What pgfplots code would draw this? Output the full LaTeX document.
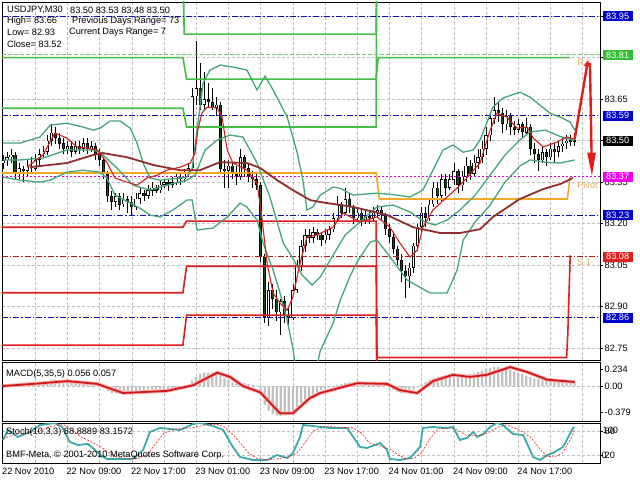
\documentclass[border=0pt]{standalone}
\usepackage{pgfplots}
\pgfplotsset{compat=1.18}
\usepackage{pgfplotstable}
\usepackage{fontspec}
\setmainfont{Liberation Sans}
\usetikzlibrary{arrows.meta}
\newcommand\mtf{\fontsize{9.2}{10}\selectfont}
\definecolor{gridc}{RGB}{192,192,192}
\definecolor{histc}{RGB}{192,192,192}
\definecolor{rgreen}{RGB}{70,190,70}
\definecolor{lgreen}{RGB}{110,200,110}
\definecolor{pivorange}{RGB}{240,170,40}
\definecolor{sred}{RGB}{225,30,30}
\definecolor{navy}{RGB}{15,15,175}
\definecolor{magl}{RGB}{230,0,230}
\definecolor{dred}{RGB}{170,30,30}
\definecolor{bband}{RGB}{70,165,120}
\definecolor{maroon}{RGB}{145,45,45}
\definecolor{mared}{RGB}{205,35,35}
\definecolor{beargreen}{RGB}{25,70,25}
\definecolor{labtan}{RGB}{230,175,95}
\definecolor{stochc}{RGB}{60,170,170}
\definecolor{boxblue}{RGB}{0,0,205}
\definecolor{boxgreen}{RGB}{50,190,50}
\definecolor{boxmag}{RGB}{240,0,240}
\definecolor{boxred}{RGB}{225,30,30}
\definecolor{macdred}{RGB}{210,25,25}
\definecolor{macdglow}{RGB}{250,170,170}

\pgfplotstableread{
i o h l c
0 83.42 83.45 83.40 83.43
1 83.43 83.46 83.41 83.44
2 83.44 83.47 83.42 83.45
3 83.45 83.46 83.36 83.38
4 83.38 83.42 83.36 83.40
5 83.40 83.41 83.35 83.39
6 83.39 83.43 83.37 83.41
7 83.41 83.44 83.38 83.40
8 83.40 83.45 83.39 83.43
9 83.43 83.47 83.41 83.45
10 83.45 83.48 83.44 83.46
11 83.46 83.52 83.45 83.50
12 83.50 83.56 83.48 83.53
13 83.53 83.55 83.49 83.51
14 83.51 83.53 83.47 83.49
15 83.49 83.51 83.45 83.47
16 83.47 83.50 83.45 83.48
17 83.48 83.50 83.44 83.46
18 83.46 83.50 83.45 83.48
19 83.48 83.50 83.45 83.47
20 83.47 83.51 83.46 83.49
21 83.49 83.51 83.45 83.47
22 83.47 83.50 83.46 83.48
23 83.48 83.49 83.43 83.45
24 83.45 83.47 83.41 83.43
25 83.43 83.44 83.36 83.38
26 83.38 83.39 83.28 83.30
27 83.30 83.32 83.25 83.28
28 83.28 83.31 83.26 83.30
29 83.30 83.31 83.25 83.27
30 83.27 83.31 83.26 83.29
31 83.29 83.30 83.24 83.28
32 83.28 83.30 83.23 83.26
33 83.26 83.31 83.25 83.29
34 83.29 83.33 83.27 83.31
35 83.31 83.32 83.28 83.30
36 83.30 83.34 83.29 83.32
37 83.32 83.35 83.30 83.33
38 83.33 83.34 83.31 83.32
39 83.32 83.36 83.31 83.34
40 83.34 83.36 83.33 83.35
41 83.35 83.36 83.32 83.34
42 83.34 83.37 83.33 83.35
43 83.35 83.38 83.34 83.37
44 83.37 83.38 83.34 83.36
45 83.36 83.40 83.35 83.38
46 83.38 83.42 83.37 83.40
47 83.40 83.69 83.39 83.66
48 83.66 83.86 83.63 83.69
49 83.69 83.78 83.61 83.63
50 83.63 83.75 83.61 83.65
51 83.65 83.71 83.62 83.64
52 83.64 83.69 83.61 83.62
53 83.62 83.66 83.59 83.63
54 83.63 83.64 83.38 83.40
55 83.40 83.43 83.33 83.39
56 83.39 83.43 83.33 83.41
57 83.41 83.42 83.36 83.38
58 83.38 83.41 83.34 83.37
59 83.37 83.47 83.36 83.44
60 83.44 83.45 83.37 83.40
61 83.40 83.42 83.35 83.37
62 83.37 83.39 83.33 83.36
63 83.36 83.38 83.32 83.34
64 83.34 83.35 83.06 83.08
65 83.08 83.09 82.84 82.86
66 82.86 82.99 82.83 82.96
67 82.96 82.98 82.89 82.93
68 82.93 82.96 82.85 82.88
69 82.88 82.93 82.80 82.92
70 82.92 82.94 82.84 82.87
71 82.87 82.90 82.82 82.86
72 82.86 82.98 82.85 82.96
73 82.96 83.07 82.95 83.05
74 83.05 83.14 83.03 83.12
75 83.12 83.18 83.10 83.16
76 83.16 83.18 83.13 83.15
77 83.15 83.19 83.13 83.17
78 83.17 83.18 83.14 83.16
79 83.16 83.17 83.12 83.14
80 83.14 83.18 83.13 83.16
81 83.16 83.19 83.14 83.18
82 83.18 83.24 83.17 83.22
83 83.22 83.30 83.21 83.27
84 83.27 83.28 83.22 83.24
85 83.24 83.33 83.23 83.29
86 83.29 83.31 83.24 83.26
87 83.26 83.27 83.20 83.22
88 83.22 83.26 83.21 83.24
89 83.24 83.25 83.19 83.21
90 83.21 83.25 83.20 83.23
91 83.23 83.25 83.20 83.22
92 83.22 83.26 83.21 83.24
93 83.24 83.27 83.22 83.25
94 83.25 83.26 83.21 83.23
95 83.23 83.24 83.16 83.18
96 83.18 83.20 83.13 83.15
97 83.15 83.17 83.09 83.11
98 83.11 83.12 83.05 83.07
99 83.07 83.09 82.99 83.03
100 83.03 83.05 82.93 83.01
101 83.01 83.06 82.97 83.04
102 83.04 83.13 83.02 83.12
103 83.12 83.20 83.10 83.19
104 83.19 83.26 83.17 83.24
105 83.24 83.26 83.19 83.22
106 83.22 83.29 83.21 83.27
107 83.27 83.35 83.26 83.33
108 83.33 83.35 83.27 83.30
109 83.30 83.38 83.28 83.36
110 83.36 83.38 83.30 83.33
111 83.33 83.38 83.32 83.36
112 83.36 83.42 83.34 83.39
113 83.39 83.40 83.31 83.34
114 83.34 83.39 83.32 83.37
115 83.37 83.44 83.35 83.41
116 83.41 83.43 83.36 83.38
117 83.38 83.45 83.37 83.42
118 83.42 83.47 83.40 83.44
119 83.44 83.50 83.42 83.47
120 83.47 83.55 83.45 83.52
121 83.52 83.60 83.50 83.58
122 83.58 83.66 83.56 83.61
123 83.61 83.64 83.57 83.60
124 83.60 83.62 83.53 83.56
125 83.56 83.61 83.54 83.59
126 83.59 83.60 83.52 83.55
127 83.55 83.57 83.52 83.54
128 83.54 83.58 83.53 83.56
129 83.56 83.57 83.51 83.53
130 83.53 83.58 83.52 83.55
131 83.55 83.56 83.45 83.47
132 83.47 83.49 83.42 83.45
133 83.45 83.47 83.39 83.43
134 83.43 83.48 83.42 83.46
135 83.46 83.47 83.41 83.44
136 83.44 83.49 83.43 83.47
137 83.47 83.49 83.42 83.46
138 83.46 83.50 83.44 83.48
139 83.48 83.51 83.46 83.49
140 83.49 83.52 83.47 83.50
141 83.50 83.52 83.48 83.50
142 83.50 83.53 83.48 83.50
}\candles

\pgfplotstableread{
i v
0 0.01
1 0.01
2 0.00
3 -0.01
4 0.00
5 0.00
6 0.01
7 0.02
8 0.03
9 0.04
10 0.05
11 0.07
12 0.09
13 0.09
14 0.08
15 0.08
16 0.07
17 0.07
18 0.06
19 0.06
20 0.05
21 0.05
22 0.04
23 0.03
24 0.02
25 -0.03
26 -0.07
27 -0.10
28 -0.10
29 -0.09
30 -0.09
31 -0.08
32 -0.08
33 -0.07
34 -0.06
35 -0.06
36 -0.05
37 -0.05
38 -0.05
39 -0.04
40 -0.04
41 -0.04
42 -0.03
43 -0.03
44 -0.02
45 -0.02
46 -0.01
47 0.08
48 0.13
49 0.17
50 0.19
51 0.19
52 0.19
53 0.18
54 0.15
55 0.11
56 0.08
57 0.05
58 0.04
59 0.05
60 0.04
61 0.03
62 0.02
63 0.01
64 -0.12
65 -0.27
66 -0.35
67 -0.40
68 -0.42
69 -0.43
70 -0.42
71 -0.40
72 -0.35
73 -0.30
74 -0.24
75 -0.19
76 -0.15
77 -0.12
78 -0.09
79 -0.06
80 -0.04
81 -0.02
82 0.00
83 0.02
84 0.03
85 0.04
86 0.05
87 0.05
88 0.05
89 0.05
90 0.05
91 0.05
92 0.05
93 0.05
94 0.04
95 0.02
96 -0.02
97 -0.05
98 -0.08
99 -0.10
100 -0.10
101 -0.09
102 -0.06
103 -0.02
104 0.02
105 0.06
106 0.09
107 0.12
108 0.13
109 0.14
110 0.15
111 0.15
112 0.15
113 0.15
114 0.16
115 0.16
116 0.17
117 0.18
118 0.20
119 0.22
120 0.24
121 0.26
122 0.27
123 0.27
124 0.26
125 0.25
126 0.23
127 0.21
128 0.19
129 0.17
130 0.15
131 0.13
132 0.11
133 0.10
134 0.09
135 0.08
136 0.08
137 0.07
138 0.07
139 0.07
140 0.06
141 0.06
142 0.056
}\macdhist

\pgfplotsset{mt/.style={scale only axis, width=598pt, xmin=-0.25, xmax=148.3,
  axis line style={black, line width=0.8pt},
  grid=major, grid style={gridc, dash pattern=on 3pt off 2pt, line width=0.5pt},
  xtick={8,16,...,144}, xticklabels={}, xtick style={draw=none},
  ytick pos=right, yticklabel pos=right, tick align=outside, major tick length=3pt,
  ytick style={black, line width=0.6pt},
  yticklabel style={font=\mtf, anchor=west, inner sep=0pt, xshift=1.5pt},
  xticklabel style={font=\mtf, anchor=north west, inner sep=0pt, xshift=-1pt, yshift=-2pt},
  clip mode=individual}}

\begin{document}
\begin{tikzpicture}
\useasboundingbox (0,0) rectangle (640pt,480pt);
\fill[white] (0,0) rectangle (640pt,480pt);

% ---------------- main price pane ----------------
\begin{axis}[mt, at={(2pt,120pt)}, anchor=south west, height=358pt,
  ymin=82.707, ymax=84.001,
  ytick={82.75,82.90,83.05,83.20,83.35,83.50,83.65,83.80,83.95},
  yticklabels={82.75,82.90,83.05,83.20,83.35,{},83.65,{},{}}]

% candle wicks
\addplot[mark=none, draw=none, error bars/.cd, y dir=both, y explicit, error mark=none,
  error bar style={draw=black, line width=0.7pt}]
  table[x=i, y expr={(\thisrow{h}+\thisrow{l})/2}, y error expr={(\thisrow{h}-\thisrow{l})/2}] {\candles};
% bear bodies
\addplot[mark=none, draw=none, restrict expr to domain={\thisrow{o}-\thisrow{c}}{0:10},
  error bars/.cd, y dir=both, y explicit, error mark=none,
  error bar style={draw=black, line width=3.2pt}]
  table[x=i, y expr={(\thisrow{o}+\thisrow{c})/2}, y error expr={max(abs(\thisrow{c}-\thisrow{o})/2,0.0015)}] {\candles};
\addplot[mark=none, draw=none, restrict expr to domain={\thisrow{o}-\thisrow{c}}{0.001:10},
  error bars/.cd, y dir=both, y explicit, error mark=none,
  error bar style={draw=beargreen, line width=1.6pt}]
  table[x=i, y expr={(\thisrow{o}+\thisrow{c})/2}, y error expr={max(abs(\thisrow{c}-\thisrow{o})/2-0.002,0)}] {\candles};
% bull bodies
\addplot[mark=none, draw=none, restrict expr to domain={\thisrow{c}-\thisrow{o}}{0.001:10},
  error bars/.cd, y dir=both, y explicit, error mark=none,
  error bar style={draw=black, line width=3.2pt}]
  table[x=i, y expr={(\thisrow{o}+\thisrow{c})/2}, y error expr={abs(\thisrow{c}-\thisrow{o})/2}] {\candles};
\addplot[mark=none, draw=none, restrict expr to domain={\thisrow{c}-\thisrow{o}}{0.001:10},
  error bars/.cd, y dir=both, y explicit, error mark=none,
  error bar style={draw=white, line width=1.6pt}]
  table[x=i, y expr={(\thisrow{o}+\thisrow{c})/2}, y error expr={max(abs(\thisrow{c}-\thisrow{o})/2-0.002,0)}] {\candles};

% daily pivot step lines
\addplot[rgreen, line width=1.6pt] coordinates {(-0.25,83.617)(44.7,83.617)(45.6,83.549)(92.7,83.549)(92.8,84.2)};
\addplot[rgreen, line width=1.6pt] coordinates {(-0.25,83.800)(44.7,83.800)(45.6,83.722)(92.7,83.722)(93.2,83.800)(140.9,83.800)};
\addplot[rgreen, line width=1.6pt] coordinates {(-0.25,84.2)(44.7,84.2)(45.0,83.885)(92.7,83.885)(92.8,84.2)};
\addplot[pivorange, line width=1.6pt] coordinates {(-0.25,83.383)(92.7,83.383)(93.5,83.289)(140.2,83.289)(140.9,83.37)};
\addplot[sred, line width=1.6pt] coordinates {(-0.25,83.187)(44.7,83.187)(45.6,83.209)(92.7,83.209)(92.9,82.716)(140.0,82.716)(140.3,82.80)(140.9,83.085)};
\addplot[sred, line width=1.6pt] coordinates {(-0.25,82.950)(44.7,82.950)(45.6,83.046)(92.7,83.046)(92.9,82.6)};
\addplot[sred, line width=1.6pt] coordinates {(-0.25,82.761)(44.7,82.761)(45.6,82.869)(92.7,82.869)(92.9,82.6)};

% next-day levels
\addplot[navy, line width=0.7pt, dash pattern=on 6pt off 2pt on 1.5pt off 2pt] coordinates {(-0.25,83.95)(148.3,83.95)};
\addplot[navy, line width=0.7pt, dash pattern=on 6pt off 2pt on 1.5pt off 2pt] coordinates {(-0.25,83.59)(148.3,83.59)};
\addplot[navy, line width=0.7pt, dash pattern=on 6pt off 2pt on 1.5pt off 2pt] coordinates {(-0.25,83.23)(148.3,83.23)};
\addplot[navy, line width=0.7pt, dash pattern=on 6pt off 2pt on 1.5pt off 2pt] coordinates {(-0.25,82.86)(148.3,82.86)};
\addplot[lgreen, line width=0.7pt, dash pattern=on 4pt off 2pt] coordinates {(-0.25,83.81)(148.3,83.81)};
\addplot[magl, line width=0.7pt, dash pattern=on 2pt off 2pt] coordinates {(-0.25,83.37)(148.3,83.37)};
\addplot[dred, line width=0.7pt, dash pattern=on 6pt off 2pt on 1.5pt off 2pt] coordinates {(-0.25,83.08)(148.3,83.08)};

% Bollinger bands
\addplot[bband, line width=1.3pt] coordinates {(0,83.491)(4.2,83.491)(9.2,83.513)(11.7,83.556)(15.9,83.563)(19.9,83.549)(22.4,83.538)(24.1,83.545)(26.6,83.571)(29.1,83.571)(31.6,83.545)(33.3,83.491)(34.8,83.419)(36.5,83.365)(39.0,83.357)(44.0,83.365)(45.7,83.368)(47.0,83.400)(48.2,83.538)(49.7,83.708)(51.4,83.755)(53.9,83.773)(57.1,83.766)(60.6,83.755)(63.1,83.683)(65.1,83.733)(67.1,83.683)(70.6,83.585)(73.1,83.455)(74.5,83.357)(75.5,83.249)(77.0,83.260)(78.8,83.303)(82.0,83.332)(83.7,83.328)(87.0,83.303)(92.9,83.310)(97.9,83.303)(101.1,83.296)(104.3,83.321)(106.8,83.393)(109.3,83.466)(111.8,83.484)(114.3,83.458)(116.8,83.466)(118.5,83.502)(121.7,83.621)(124.2,83.654)(128.4,83.675)(130.9,83.657)(133.4,83.628)(135.9,83.599)(138.4,83.585)(140.9,83.567)(142,83.538)};
\addplot[bband, line width=1.3pt] coordinates {(0,83.430)(4.2,83.430)(9.9,83.437)(15.9,83.466)(22.4,83.466)(24.1,83.458)(28.3,83.401)(32.3,83.339)(36.5,83.321)(40.7,83.339)(45.7,83.357)(47.7,83.375)(50.2,83.466)(53.2,83.502)(56.4,83.520)(59.6,83.513)(63.1,83.419)(66.3,83.296)(69.6,83.130)(72.0,83.075)(74.3,83.014)(76.8,82.978)(78.8,83.007)(82.0,83.086)(85.0,83.159)(88.7,83.206)(92.9,83.260)(96.9,83.267)(101.1,83.242)(104.8,83.206)(107.3,83.195)(110.3,83.213)(113.5,83.249)(117.3,83.303)(121.0,83.375)(124.7,83.448)(128.4,83.502)(130.9,83.531)(134.7,83.538)(138.4,83.515)(142,83.500)};
\addplot[bband, line width=1.3pt] coordinates {(0,83.368)(4.2,83.357)(9.2,83.350)(11.7,83.357)(15.9,83.386)(19.9,83.393)(24.1,83.386)(25.8,83.365)(27.8,83.303)(31.6,83.274)(34.0,83.256)(36.5,83.231)(39.0,83.224)(42.2,83.249)(45.7,83.285)(47.0,83.285)(48.2,83.177)(52.2,83.184)(55.7,83.224)(58.9,83.274)(60.6,83.260)(63.1,83.213)(64.6,83.130)(67.1,83.032)(68.8,82.950)(70.6,82.850)(72.0,82.750)(73.0,82.650)(77.5,82.650)(78.8,82.740)(82.0,82.840)(83.7,82.920)(86.2,83.010)(87.9,83.060)(91.2,83.133)(92.9,83.140)(95.4,83.094)(100.4,82.996)(106.1,82.949)(110.3,82.949)(112.8,83.032)(114.3,83.140)(117.3,83.206)(121.0,83.267)(124.7,83.350)(128.4,83.408)(130.9,83.430)(134.7,83.422)(138.4,83.419)(142,83.430)};

% slow moving average
\addplot[maroon, line width=1.8pt] coordinates {(6.7,83.404)(15.9,83.419)(22.4,83.448)(24.8,83.455)(30.8,83.440)(37.3,83.412)(44.0,83.393)(48.9,83.393)(53.9,83.422)(60.6,83.419)(63.9,83.401)(68.1,83.357)(72.0,83.321)(76.3,83.285)(78.8,83.278)(87.0,83.260)(95.4,83.231)(101.9,83.187)(108.6,83.166)(113.5,83.166)(118.5,83.180)(121.7,83.224)(128.4,83.289)(134.2,83.325)(138.4,83.343)(141.6,83.365)};
% fast moving average
\addplot[mared, line width=1.1pt] coordinates {(6.0,83.404)(9.9,83.448)(12.9,83.527)(15.9,83.509)(18.4,83.477)(20.9,83.473)(23.4,83.466)(25.8,83.422)(27.8,83.365)(30.8,83.350)(33.3,83.339)(35.8,83.365)(38.3,83.375)(40.7,83.393)(44.0,83.404)(46.5,83.419)(47.7,83.455)(48.4,83.538)(49.4,83.599)(50.7,83.621)(53.2,83.618)(54.4,83.585)(55.7,83.466)(57.1,83.419)(60.6,83.393)(63.1,83.346)(64.3,83.224)(65.6,83.057)(67.1,82.949)(68.8,82.913)(70.6,82.887)(72.0,82.934)(73.8,83.057)(75.5,83.151)(78.0,83.159)(82.0,83.187)(84.5,83.238)(88.7,83.206)(92.9,83.224)(96.1,83.187)(98.6,83.130)(101.1,83.079)(102.9,83.104)(104.3,83.187)(106.8,83.249)(110.3,83.296)(112.8,83.328)(115.2,83.365)(118.5,83.419)(121.0,83.538)(122.7,83.599)(125.2,83.585)(127.7,83.545)(130.2,83.549)(131.7,83.509)(134.2,83.477)(137.6,83.495)(140.1,83.513)(142,83.505)};

% level texts
\node[anchor=west, text=labtan, font=\mtf, inner sep=0pt] at (axis cs:142.6,83.782) {R 1};
\node[anchor=west, text=labtan, font=\mtf, inner sep=0pt] at (axis cs:142.6,83.340) {Pivot};
\node[anchor=west, text=labtan, font=\mtf, inner sep=0pt] at (axis cs:142.6,83.061) {S 1};

% projection arrows
\addplot[sred, line width=2.4pt, -{Triangle[length=6pt,width=6pt]}] coordinates {(142,83.505)(145.3,83.79)};
\addplot[sred, line width=2.4pt, -{Triangle[length=24pt,width=8pt]}] coordinates {(145.8,83.78)(146.3,83.37)};

% right-hand price boxes
\tikzset{pbox/.style={anchor=west, xshift=2.5pt, text=white, font=\mtf, minimum width=30pt, minimum height=10pt, inner sep=0pt}}
\node[pbox, fill=boxblue] at (axis cs:148.3,83.95) {83.95};
\node[pbox, fill=boxgreen] at (axis cs:148.3,83.81) {83.81};
\node[pbox, fill=boxblue] at (axis cs:148.3,83.59) {83.59};
\node[pbox, fill=black] at (axis cs:148.3,83.50) {83.50};
\node[pbox, fill=boxmag] at (axis cs:148.3,83.37) {83.37};
\node[pbox, fill=boxblue] at (axis cs:148.3,83.23) {83.23};
\node[pbox, fill=boxred] at (axis cs:148.3,83.08) {83.08};
\node[pbox, fill=boxblue] at (axis cs:148.3,82.86) {82.86};
\end{axis}

% ---------------- MACD pane ----------------
\begin{axis}[mt, at={(2pt,59pt)}, anchor=south west, height=59pt,
  ymin=-0.5, ymax=0.343,
  ytick={0}, yticklabels={0.00},
  extra y ticks={-0.379,0.234}, extra y tick labels={-0.379,0.234}, extra y tick style={grid=none}]
\addplot[ybar, bar width=2.2pt, fill=histc, draw=none] table[x=i, y=v] {\macdhist};
\addplot[macdglow, line width=3.6pt] coordinates {(0,0)(7.5,0.03)(16,0.07)(23.4,0.03)(29.8,-0.10)(40.7,-0.07)(47.2,0.01)(53.2,0.19)(56.4,0.13)(59.6,0)(63.9,-0.09)(68.8,-0.39)(72,-0.39)(76.3,-0.17)(78.8,-0.10)(88,0.04)(95.4,0.03)(98.6,-0.06)(102.9,-0.10)(106.8,0.07)(111.8,0.16)(116,0.13)(120.2,0.16)(126,0.27)(130.2,0.20)(135.2,0.09)(142,0.057)};
\addplot[macdred, line width=1.8pt] coordinates {(0,0)(7.5,0.03)(16,0.07)(23.4,0.03)(29.8,-0.10)(40.7,-0.07)(47.2,0.01)(53.2,0.19)(56.4,0.13)(59.6,0)(63.9,-0.09)(68.8,-0.39)(72,-0.39)(76.3,-0.17)(78.8,-0.10)(88,0.04)(95.4,0.03)(98.6,-0.06)(102.9,-0.10)(106.8,0.07)(111.8,0.16)(116,0.13)(120.2,0.16)(126,0.27)(130.2,0.20)(135.2,0.09)(142,0.057)};
\end{axis}

% ---------------- Stochastic pane ----------------
\begin{axis}[mt, at={(2pt,17pt)}, anchor=south west, height=40pt,
  ymin=0, ymax=100, ytick={20,80}, yticklabels={20,80},
  extra x ticks={0,16,...,128},
  extra x tick labels={22 Nov 2010,22 Nov 09:00,22 Nov 17:00,23 Nov 01:00,23 Nov 09:00,23 Nov 17:00,24 Nov 01:00,24 Nov 09:00,24 Nov 17:00},
  extra x tick style={grid=none}]
\addplot[stochc, line width=1.8pt] coordinates {(0,57.5)(1.2,82.5)(3.7,65)(6.7,77.5)(9.2,95)(12.9,100)(14.7,90)(16.6,52.5)(18.6,45)(21.1,47.5)(22.9,32.5)(24.1,20)(25.8,10)(29.1,10)(32.3,10)(34.8,32.5)(36.5,77.5)(39,87.5)(44,82.5)(47.2,97.5)(48.9,100)(52.2,92.5)(54.7,82.5)(57.1,40)(58.9,15)(62.1,7.5)(65.6,7.5)(68.1,20)(70.6,12.5)(72,25)(73.8,65)(74.5,95)(77,92.5)(78.8,90)(81.2,87.5)(85.5,87.5)(88.7,40)(90.4,37.5)(93.7,50)(95.4,32.5)(96.1,10)(98.6,7.5)(101.1,12.5)(103.6,40)(104.3,87.5)(106.8,90)(110.3,87.5)(111.8,90)(113.5,57.5)(115.2,62.5)(116.8,77.5)(117.8,65)(119.3,72.5)(121,90)(122.7,100)(124.2,95)(126.7,72.5)(129.2,70)(131.7,15)(133.4,7.5)(135.2,20)(136.6,25)(139.1,40)(141.6,87.5)(142,88.89)};
\addplot[sred, line width=0.6pt, dash pattern=on 2pt off 1.5pt] coordinates {(0,60)(3,72)(6,74)(9,80)(12,92)(15,96)(17,85)(19,68)(22,52)(24,42)(26,28)(28,16)(31,10)(34,12)(36,22)(38,50)(40,75)(43,85)(47,88)(50,95)(53,97)(55,90)(57,72)(59,50)(61,25)(63,12)(66,8)(69,12)(71,15)(73,25)(75,50)(77,80)(80,92)(84,89)(87,88)(89,75)(91,50)(94,42)(96,35)(98,22)(100,10)(102,12)(104,25)(106,60)(108,85)(111,88)(113,82)(115,70)(117,68)(119,70)(121,78)(123,90)(125,95)(127,88)(129,78)(131,65)(133,40)(135,17)(137,15)(139,25)(141,60)(142,83.16)};
\node[anchor=west, font=\mtf, inner sep=0pt, xshift=2.5pt] at (axis cs:148.3,81) {100};
\node[anchor=west, font=\mtf, inner sep=0pt, xshift=1.5pt] at (axis cs:148.3,19) {0};
\end{axis}

% ---------------- texts ----------------
\node[anchor=west, font=\mtf, inner sep=0pt] at (7pt,470pt) {USDJPY,M30};
\node[anchor=west, font=\mtf, inner sep=0pt] at (70pt,470pt) {83.50 83.53 83.48 83.50};
\node[anchor=west, font=\mtf, inner sep=0pt] at (7pt,459pt) {High= 83.66};
\node[anchor=west, font=\mtf, inner sep=0pt] at (72pt,459pt) {Previous Days Range= 73};
\node[anchor=west, font=\mtf, inner sep=0pt] at (7pt,447.3pt) {Low= 82.93};
\node[anchor=west, font=\mtf, inner sep=0pt] at (69pt,447.3pt) {Current Days Range= 7};
\node[anchor=west, font=\mtf, inner sep=0pt] at (7pt,435.7pt) {Close= 83.52};
\node[anchor=west, font=\mtf, inner sep=0pt] at (6pt,106pt) {MACD(5,35,5) 0.056 0.057};
\node[anchor=west, font=\mtf, inner sep=0pt] at (6pt,48pt) {Stoch(10,3,3) 88.8889 83.1572};
\node[anchor=west, font=\mtf, inner sep=0pt] at (6pt,25pt) {BMF-Meta, © 2001-2010 MetaQuotes Software Corp.};
\end{tikzpicture}
\end{document}
